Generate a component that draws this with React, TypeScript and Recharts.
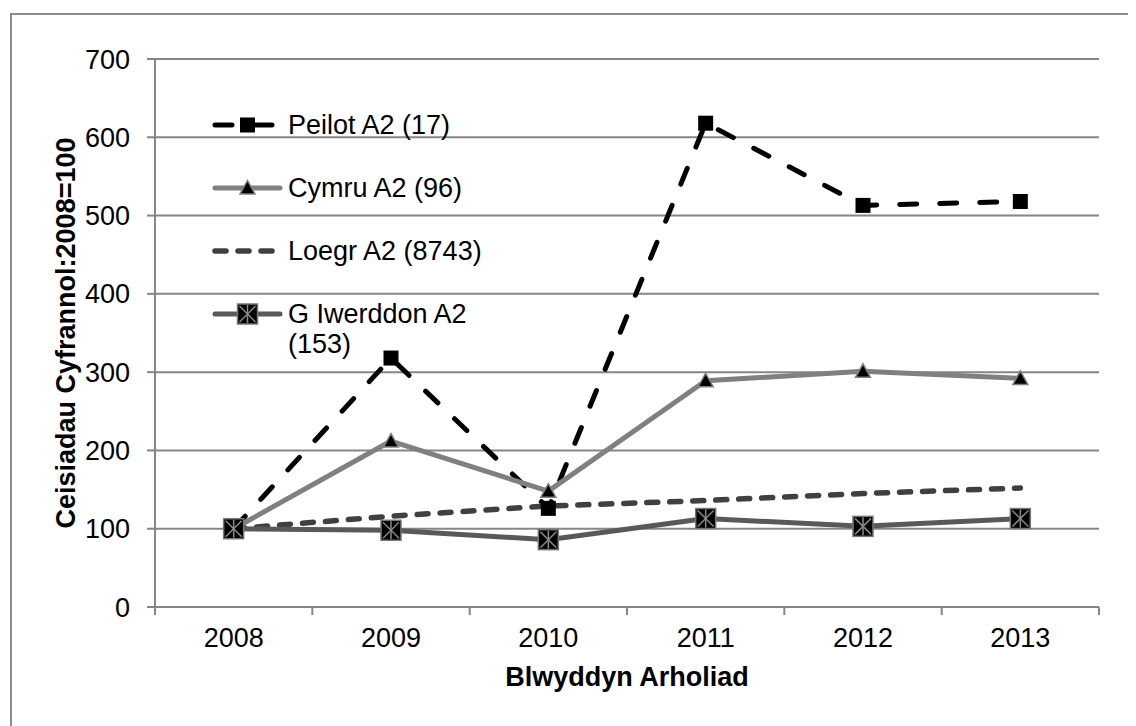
import React from "react";
import {
  LineChart,
  Line,
  XAxis,
  YAxis,
  CartesianGrid,
  Legend,
  Label,
} from "recharts";

// values (index 2008 = 100)
const YEARS = ["2008", "2009", "2010", "2011", "2012", "2013"];
const PEILOT = [100, 318, 126, 618, 513, 518];
const CYMRU = [100, 212, 148, 289, 301, 292];
const LOEGR = [100, 116, 129, 136, 145, 152];
const IWERDDON = [100, 98, 86, 113, 103, 113];
const Y_TICKS = [0, 100, 200, 300, 400, 500, 600, 700];

const SERIES = [
  { key: "peilot", name: "Peilot A2 (17)", color: "#000000", width: 5, dash: "17 23", marker: "square" },
  { key: "cymru", name: "Cymru A2 (96)", color: "#808080", width: 5, dash: undefined, marker: "triangle" },
  { key: "loegr", name: "Loegr A2 (8743)", color: "#404040", width: 5.5, dash: "11 12", marker: "none" },
  { key: "iwerddon", name: "G Iwerddon A2 (153)", color: "#595959", width: 5, dash: undefined, marker: "star" },
];

const data = YEARS.map((year, i) => ({
  year,
  peilot: PEILOT[i],
  cymru: CYMRU[i],
  loegr: LOEGR[i],
  iwerddon: IWERDDON[i],
}));

const FONT = "'Liberation Sans', Arial, sans-serif";
const FONT_SIZE = 27;
const AXIS_GREY = "#868686";

const CHART_W = 1128;
const CHART_H = 710;
const MARGIN = { top: 51, right: 37, left: 0, bottom: 0 };
const Y_AXIS_W = 147;
const X_AXIS_H = 111;
const PLOT_W = CHART_W - Y_AXIS_W - MARGIN.right;
const BAND = PLOT_W / YEARS.length;

const renderMarker = (kind: string, cx: number, cy: number, key?: string) => {
  if (kind === "square") {
    return <rect key={key} x={cx - 7.5} y={cy - 7.5} width={15} height={15} fill="#000" />;
  }
  if (kind === "triangle") {
    return (
      <polygon
        key={key}
        points={`${cx},${cy - 7.5} ${cx + 7.5},${cy + 6} ${cx - 7.5},${cy + 6}`}
        fill="#000"
        stroke="#808080"
        strokeWidth={1.5}
      />
    );
  }
  if (kind === "star") {
    const s = 10;
    return (
      <g key={key}>
        <rect x={cx - s} y={cy - s} width={2 * s} height={2 * s} fill="#000" stroke="#777" strokeWidth={1.5} />
        <line x1={cx - s + 2} y1={cy - s + 2} x2={cx + s - 2} y2={cy + s - 2} stroke="#8a8a8a" strokeWidth={1.5} />
        <line x1={cx + s - 2} y1={cy - s + 2} x2={cx - s + 2} y2={cy + s - 2} stroke="#8a8a8a" strokeWidth={1.5} />
        <line x1={cx} y1={cy - s + 1} x2={cx} y2={cy + s - 1} stroke="#8a8a8a" strokeWidth={1.5} />
      </g>
    );
  }
  return null;
};

const makeDot = (kind: string) => (props: any) => {
  const { cx, cy, index } = props;
  if (cx == null || cy == null) return <g key={`d-${kind}-${index}`} />;
  return renderMarker(kind, cx, cy, `d-${kind}-${index}`);
};

const XTick = (props: any) => {
  const { x, y, payload, index } = props;
  const last = index === YEARS.length - 1;
  return (
    <g>
      <line x1={x - BAND / 2} y1={y} x2={x - BAND / 2} y2={y + 8} stroke={AXIS_GREY} strokeWidth={2} />
      {last && <line x1={x + BAND / 2} y1={y} x2={x + BAND / 2} y2={y + 8} stroke={AXIS_GREY} strokeWidth={2} />}
      <text x={x} y={y + 40} textAnchor="middle" fill="#000" fontSize={FONT_SIZE} fontFamily={FONT}>
        {payload.value}
      </text>
    </g>
  );
};

const YLabel = (props: any) => {
  const vb = props.viewBox || { y: MARGIN.top, height: 548 };
  const cy = vb.y + vb.height / 2;
  const bx = 67;
  return (
    <text
      x={bx}
      y={cy}
      transform={`rotate(-90, ${bx}, ${cy})`}
      textAnchor="middle"
      fontSize={FONT_SIZE}
      fontWeight="bold"
      fontFamily={FONT}
      fill="#000"
    >
      Ceisiadau Cyfrannol:2008=100
    </text>
  );
};

const XLabel = (props: any) => {
  const vb = props.viewBox || { x: Y_AXIS_W, width: PLOT_W };
  return (
    <text
      x={vb.x + vb.width / 2}
      y={678}
      textAnchor="middle"
      fontSize={FONT_SIZE}
      fontWeight="bold"
      fontFamily={FONT}
      fill="#000"
    >
      Blwyddyn Arholiad
    </text>
  );
};

// legend keeps the series order of the original
const LegendBox = () => (
  <div style={{ fontFamily: FONT, fontSize: FONT_SIZE, color: "#000", textAlign: "left" }}>
    {SERIES.map((s) => (
      <div key={s.key} style={{ display: "flex", alignItems: "flex-start", height: 63 }}>
        <svg width={71} height={30} style={{ flex: "none" }}>
          <line
            x1={3}
            y1={15}
            x2={s.dash ? 61 : 68}
            y2={15}
            stroke={s.color}
            strokeWidth={s.width}
            strokeDasharray={s.dash}
            strokeLinecap="round"
          />
          {renderMarker(s.marker, 35.5, 15)}
        </svg>
        <div style={{ marginLeft: 5, width: 205, lineHeight: "30px", whiteSpace: "normal" }}>{s.name}</div>
      </div>
    ))}
  </div>
);

export default function App() {
  return (
    <div style={{ position: "relative", width: CHART_W, height: 718, overflow: "hidden", background: "#fff" }}>
      <div
        style={{
          position: "absolute",
          left: 2,
          top: 5,
          width: 1300,
          height: 900,
          border: "2px solid #8c8c8c",
          boxSizing: "border-box",
        }}
      />
      <div style={{ position: "absolute", left: 0, top: 0 }}>
        <LineChart width={CHART_W} height={CHART_H} data={data} margin={MARGIN}>
          <CartesianGrid horizontal vertical={false} stroke={AXIS_GREY} strokeWidth={2} />
          <XAxis
            dataKey="year"
            height={X_AXIS_H}
            padding={{ left: BAND / 2, right: BAND / 2 }}
            axisLine={{ stroke: AXIS_GREY, strokeWidth: 2 }}
            tickLine={false}
            tickSize={0}
            tickMargin={0}
            tick={<XTick />}
            interval={0}
          >
            <Label content={<XLabel />} />
          </XAxis>
          <YAxis
            width={Y_AXIS_W}
            domain={[0, 700]}
            ticks={Y_TICKS}
            interval={0}
            axisLine={{ stroke: AXIS_GREY, strokeWidth: 2 }}
            tickLine={{ stroke: AXIS_GREY, strokeWidth: 2 }}
            tickSize={8}
            tickMargin={17}
            tick={{ fill: "#000", fontSize: FONT_SIZE, fontFamily: FONT }}
          >
            <Label content={<YLabel />} />
          </YAxis>
          <Legend
            content={<LegendBox />}
            layout="horizontal"
            align="center"
            verticalAlign="middle"
            wrapperStyle={{ position: "absolute", left: 204, top: 102, width: 330 }}
          />
          {SERIES.map((s) => (
            <Line
              key={s.key}
              dataKey={s.key}
              name={s.name}
              type="linear"
              stroke={s.color}
              strokeWidth={s.width}
              strokeDasharray={s.dash}
              strokeLinecap="round"
              strokeLinejoin="round"
              dot={s.marker === "none" ? false : makeDot(s.marker)}
              activeDot={false}
              legendType="line"
              isAnimationActive={false}
            />
          ))}
        </LineChart>
      </div>
    </div>
  );
}
